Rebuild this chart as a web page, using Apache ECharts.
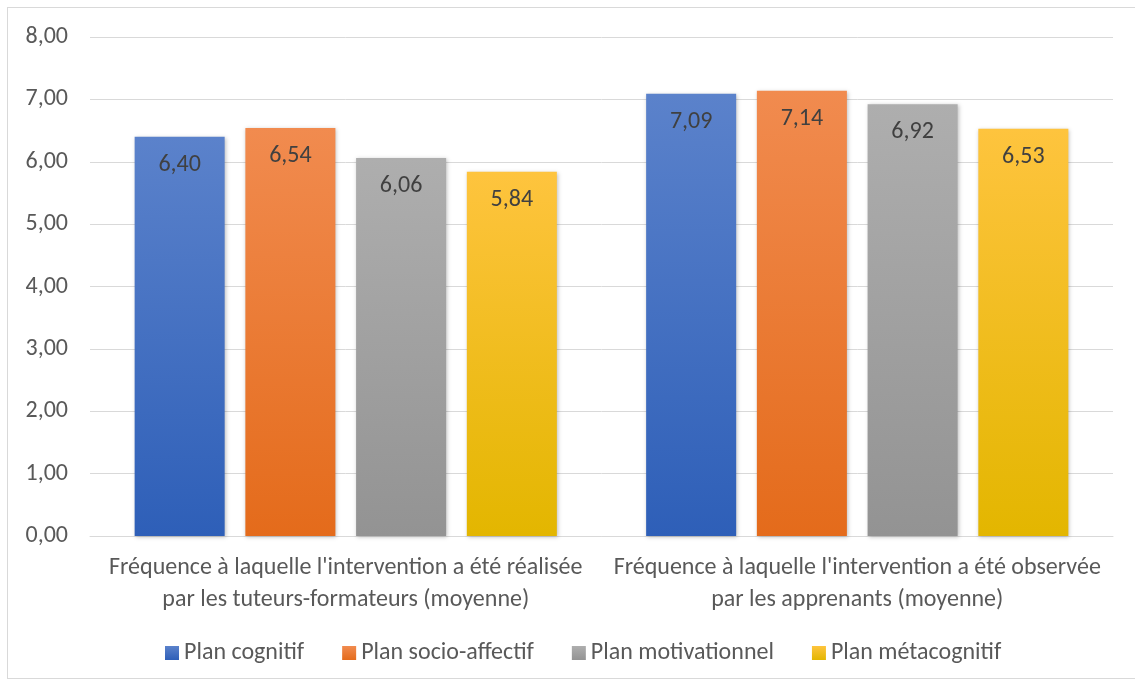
<!DOCTYPE html>
<html>
<head>
<meta charset="utf-8">
<script src="https://cdn.jsdelivr.net/npm/echarts@6/dist/echarts.min.js"></script>
<style>
  html, body { margin: 0; padding: 0; background: #fff; }
  #frame {
    position: absolute; left: 7px; top: 7px;
    width: 1140px; height: 670px;
    border: 1px solid #d9d9d9;
  }
  #chart { position: absolute; left: 0; top: 0; width: 1135px; height: 681px; }
</style>
</head>
<body>
<div id="frame"></div>
<div id="chart"></div>
<script>
  // catégories (axe X)
  const categories = [
    "Fréquence à laquelle l'intervention a été réalisée\npar les tuteurs-formateurs (moyenne)",
    "Fréquence à laquelle l'intervention a été observée\npar les apprenants (moyenne)"
  ]
  const seriesNames = ['Plan cognitif', 'Plan socio-affectif', 'Plan motivationnel', 'Plan métacognitif']
  const cognitif = [6.40, 7.09]
  const socioAffectif = [6.54, 7.14]
  const motivationnel = [6.06, 6.92]
  const metacognitif = [5.84, 6.53]

  // dégradés haut -> bas
  const colors = [
    ['#5b82cb', '#2e5fb8'],
    ['#f18b4f', '#e46b1b'],
    ['#aeaeae', '#939393'],
    ['#fec43e', '#e3b600']
  ]

  const font = 'Carlito, "Open Sans", sans-serif'
  const fmt = v => v.toFixed(2).replace('.', ',')

  function bar(name, data, i) {
    return {
      name: name,
      type: 'bar',
      data: data,
      barWidth: '17.6%',
      barGap: '23%',
      itemStyle: {
        color: new echarts.graphic.LinearGradient(0, 0, 0, 1, [
          { offset: 0, color: colors[i][0] },
          { offset: 1, color: colors[i][1] }
        ]),
        shadowColor: 'rgba(0,0,0,0.25)',
        shadowBlur: 4,
        shadowOffsetX: 1,
        shadowOffsetY: 1
      },
      label: {
        show: true,
        position: 'insideTop',
        distance: 16,
        color: '#404040',
        fontSize: 24,
        fontFamily: font,
        formatter: p => fmt(p.value)
      }
    }
  }

  const chart = echarts.init(document.getElementById('chart'))
  chart.setOption({
    animation: false,
    textStyle: { fontFamily: font },
    grid: { left: 90, right: 22, top: 37, bottom: 145, containLabel: false },
    legend: {
      top: 636,
      left: 160,
      itemWidth: 14,
      itemHeight: 14,
      itemGap: 38,
      icon: 'rect',
      textStyle: { color: '#595959', fontSize: 24, fontFamily: font },
      data: seriesNames.map((n, i) => ({
        name: n,
        itemStyle: {
          color: new echarts.graphic.LinearGradient(0, 0, 0, 1, [
            { offset: 0, color: colors[i][0] },
            { offset: 1, color: colors[i][1] }
          ])
        }
      }))
    },
    xAxis: {
      type: 'category',
      data: categories,
      axisLine: { lineStyle: { color: '#d9d9d9', width: 1 } },
      axisTick: { show: false },
      axisLabel: {
        interval: 0,
        hideOverlap: false,
        color: '#595959',
        fontSize: 24,
        lineHeight: 32,
        margin: 16,
        fontFamily: font
      }
    },
    yAxis: {
      type: 'value',
      min: 0,
      max: 8,
      interval: 1,
      axisLine: { show: false },
      axisTick: { show: false },
      splitLine: { lineStyle: { color: '#d9d9d9', width: 1 } },
      axisLabel: {
        color: '#595959',
        fontSize: 24,
        margin: 22,
        fontFamily: font,
        formatter: v => fmt(v)
      }
    },
    series: [
      bar(seriesNames[0], cognitif, 0),
      bar(seriesNames[1], socioAffectif, 1),
      bar(seriesNames[2], motivationnel, 2),
      bar(seriesNames[3], metacognitif, 3)
    ]
  })
</script>
</body>
</html>
